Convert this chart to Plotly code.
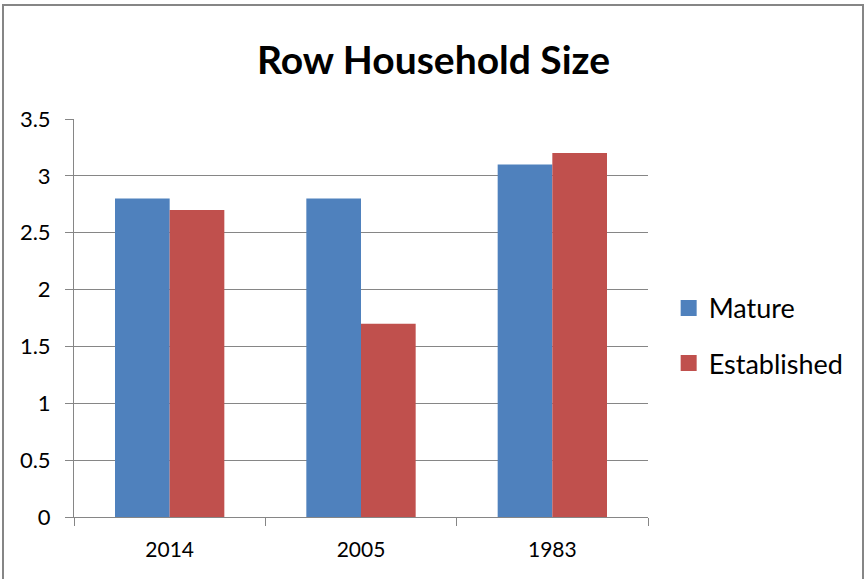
import plotly.graph_objects as go

# Household size by year for each neighbourhood type
years = ["2014", "2005", "1983"]
mature = [2.8, 2.8, 3.1]
established = [2.7, 1.7, 3.2]

series_names = ["Mature", "Established"]
series_colors = ["#4F81BD", "#C0504D"]

FONT = "Lato"

fig = go.Figure()

for name, vals, color in zip(series_names, [mature, established], series_colors):
    fig.add_trace(go.Bar(
        x=years, y=vals, name=name,
        marker=dict(color=color, line=dict(width=0)),
        showlegend=False,
    ))

# Larger square swatches for the legend
for name, color in zip(series_names, series_colors):
    fig.add_trace(go.Scatter(
        x=[None], y=[None], mode="markers", name=name,
        legendgroup=name,
        marker=dict(symbol="square", size=16, color=color),
    ))

fig.update_layout(
    width=867, height=579,
    margin=dict(l=74, r=219, t=119, b=62),
    paper_bgcolor="white",
    plot_bgcolor="white",
    font=dict(family=FONT, color="#000000", size=21),
    barmode="group",
    bargap=1.5 / 3.5,
    bargroupgap=0,
    title=dict(
        text="<b>Row Household Size</b>",
        x=0.5, xref="container", xanchor="center",
        y=1 - 60 / 579, yref="container", yanchor="middle",
        font=dict(family=FONT, size=39, color="#000000"),
    ),
    legend=dict(
        x=1.036, xanchor="left",
        y=0.455, yanchor="middle",
        font=dict(family=FONT, size=27, color="#000000"),
        traceorder="grouped",
        tracegroupgap=17,
        itemsizing="trace",
        bgcolor="rgba(0,0,0,0)",
    ),
    xaxis=dict(
        showline=True, linecolor="#868686", linewidth=1,
        ticks="outside", tickson="boundaries", ticklen=8,
        tickcolor="#868686", tickwidth=1,
        showgrid=False,
        tickfont=dict(size=21),
        ticklabelstandoff=14,
    ),
    yaxis=dict(
        range=[0, 3.5], dtick=0.5, tick0=0,
        showline=True, linecolor="#868686", linewidth=1,
        ticks="outside", ticklen=8, tickcolor="#868686", tickwidth=1,
        showgrid=True, gridcolor="#868686", gridwidth=1,
        zeroline=False,
        tickfont=dict(size=22),
        ticklabelstandoff=10,
    ),
    shapes=[
        dict(
            type="rect", xref="paper", yref="paper",
            x0=(3 - 74) / 574, x1=(863 - 74) / 574,
            y0=(517 - 600) / 398, y1=(517 - 5) / 398,
            line=dict(color="#868686", width=2),
            fillcolor="rgba(0,0,0,0)", layer="below",
        )
    ],
)

fig.write_html("out.html")
